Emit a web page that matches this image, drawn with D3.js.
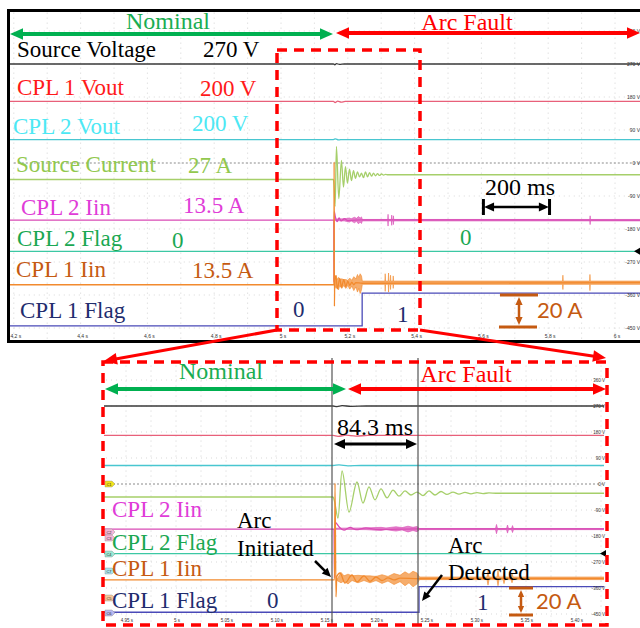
<!DOCTYPE html>
<html>
<head>
<meta charset="utf-8">
<script src="https://cdn.jsdelivr.net/npm/d3@7"></script>
<style>
  body { margin: 0; background: #fff; }
  svg { display: block; }
</style>
</head>
<body>
<script>
// scope capture, traces in screen volts against time (s)
var tArc = 5.157,
    tDetect = 5.243;

var voltTicks = [360, 270, 180, 90, 0, -90, -180, -270, -360, -450];
var topTimeTicks = [4.2, 4.4, 4.6, 4.8, 5, 5.2, 5.4, 5.6, 5.8, 6];
var topTimeLabels = ["4.2 s", "4.4 s", "4.6 s", "4.8 s", "5 s", "5.2 s", "5.4 s", "5.6 s", "5.8 s", "6 s"];
var botTimeTicks = [4.95, 5, 5.05, 5.1, 5.15, 5.2, 5.25, 5.3, 5.35, 5.4];
var botTimeLabels = ["4.95 s", "5 s", "5.05 s", "5.10 s", "5.15 s", "5.20 s", "5.25 s", "5.30 s", "5.35 s", "5.40 s"];

var chanNames = ["Source Voltage", "CPL 1 Vout", "CPL 2 Vout", "Source Current", "CPL 2 Iin", "CPL 2 Flag", "CPL 1 Iin", "CPL 1 Flag"];
var chanValues = ["270 V", "200 V", "200 V", "27 A", "13.5 A", "0", "13.5 A", "0"];

var sourceVoltage = [[4.15, 270], [5.157, 270], [5.161, 268], [5.166, 271], [5.175, 269], [5.19, 270], [6.1, 270]];
var cpl1Vout = [[4.15, 168], [5.157, 168], [5.162, 165], [5.17, 169], [5.18, 166], [5.192, 168], [6.1, 168]];
var cpl2Vout = [[4.15, 64], [5.157, 64], [5.163, 66], [5.172, 63], [5.185, 64], [6.1, 64]];
var sourceCurrent = [[4.15, -45], [5.157, -45], [5.1585, -60], [5.162, -118], [5.166, 45], [5.173, -97], [5.181, 7],
    [5.187, -66], [5.193, -10], [5.199, -55], [5.205, -17], [5.211, -48], [5.217, -21], [5.223, -42], [5.229, -24],
    [5.235, -38], [5.241, -28], [5.247, -40], [5.253, -24], [5.259, -38], [5.265, -26], [5.271, -36], [5.277, -28],
    [5.283, -35], [5.289, -29], [5.295, -34], [5.301, -30], [5.307, -33], [5.313, -31], [5.32, -32], [6.1, -32]];
var cpl2Iin = [[4.15, -156], [5.158, -156], [5.1585, -325], [5.159, -132], [5.163, -148], [5.168, -160], [5.174, -150],
    [5.18, -158], [5.19, -152], [5.2, -157], [5.243, -155], [6.1, -156]];
var cpl2IinNoise = [[5.16, -157, -153], [5.19, -158, -152], [5.205, -161, -150], [5.21, -158, -152], [5.22, -163, -148],
    [5.226, -159, -151], [5.232, -166, -146], [5.237, -161, -150], [5.241, -165, -147], [5.2435, -158, -154],
    [5.3195, -158, -154], [5.3205, -172, -140], [5.3215, -158, -154], [5.3305, -158, -154], [5.3315, -170, -142],
    [5.3325, -158, -154], [5.3355, -158, -154], [5.3365, -168, -144], [5.3375, -158, -154],
    [5.9245, -158, -154], [5.9255, -168, -144], [5.9265, -158, -154], [6.1, -158, -154]];
var cpl2Flag = [[4.15, -241], [6.1, -241]];
var cpl1Iin = [[4.15, -332], [5.1585, -332], [5.159, 3], [5.16, -391], [5.1608, -320], [5.164, -308], [5.169, -343],
    [5.176, -315], [5.181, -339], [5.188, -318], [5.194, -337], [5.2, -322], [5.206, -334], [5.212, -325], [5.218, -332],
    [5.224, -326], [5.243, -328], [6.1, -326]];
var cpl1IinNoise = [[5.161, -334, -330], [5.165, -342, -306], [5.168, -336, -318], [5.172, -346, -312], [5.176, -334, -318],
    [5.182, -342, -316], [5.188, -334, -318], [5.194, -342, -318], [5.2, -334, -320], [5.206, -344, -314], [5.212, -336, -320],
    [5.218, -348, -310], [5.224, -338, -316], [5.229, -352, -304], [5.233, -342, -312], [5.237, -356, -302], [5.241, -346, -308],
    [5.2435, -331, -322], [5.311, -331, -322], [5.312, -350, -302], [5.313, -331, -322], [5.321, -331, -322], [5.322, -352, -300],
    [5.323, -331, -322], [5.327, -331, -322], [5.328, -345, -306], [5.329, -331, -322], [5.335, -331, -322], [5.336, -342, -308],
    [5.337, -331, -322], [5.843, -331, -322], [5.844, -345, -306], [5.845, -331, -322], [5.924, -331, -322], [5.925, -348, -304],
    [5.926, -331, -322], [6.1, -331, -322]];
var cpl1Flag = [[4.15, -444], [5.243, -444], [5.243, -355], [6.1, -355]];

var traces = [
    { data: sourceVoltage, color: "#3a3a3a", curve: d3.curveMonotoneX },
    { data: cpl1Vout, color: "#e8607a", curve: d3.curveMonotoneX },
    { data: cpl2Vout, color: "#48c6d0", curve: d3.curveMonotoneX },
    { data: sourceCurrent, color: "#a6cf6a", curve: d3.curveMonotoneX },
    { data: cpl2Iin, color: "#d94bb5", curve: d3.curveMonotoneX, noise: cpl2IinNoise },
    { data: cpl2Flag, color: "#3cc8a4", curve: d3.curveLinear },
    { data: cpl1Iin, color: "#f28a2e", curve: d3.curveMonotoneX, noise: cpl1IinNoise },
    { data: cpl1Flag, color: "#4a4ab8", curve: d3.curveLinear }
];
var textColors = ["#000", "#ff1a1a", "#4de8f4", "#92c84e", "#e03cd8", "#1aa852", "#c55a11", "#1f2d6e"];

var W = 640, H = 628;
var svg = d3.select("body").append("svg")
    .attr("width", W).attr("height", H)
    .style("font-family", "'Liberation Serif', 'Times New Roman', serif");

var xTop = d3.scaleLinear().domain([5, 6]).range([281, 615]),
    yTop = d3.scaleLinear().domain([0, -450]).range([163, 328]),
    xBot = d3.scaleLinear().domain([5, 5.4]).range([176, 576]),
    yBot = d3.scaleLinear().domain([0, -450]).range([484, 614]);

var defs = svg.append("defs");
defs.append("clipPath").attr("id", "clipTop").append("rect").attr("x", 9).attr("y", 12).attr("width", 631).attr("height", 328);
defs.append("clipPath").attr("id", "clipBot").append("rect").attr("x", 104).attr("y", 364).attr("width", 500).attr("height", 260);

function drawPanel(clip, x, y, gridStep, t0, t1, xRight) {
    var g = svg.append("g").attr("clip-path", "url(#" + clip + ")");
    // dotted scope grid
    g.selectAll(".vg").data(d3.range(t0, t1, gridStep)).enter().append("line")
        .attr("x1", d => x(d)).attr("x2", d => x(d))
        .attr("y1", y(410)).attr("y2", y(-480))
        .attr("stroke", "#c8c8c8").attr("stroke-width", 0.8).attr("stroke-dasharray", "1,4");
    g.selectAll(".hg").data(voltTicks).enter().append("line")
        .attr("x1", x(t0)).attr("x2", xRight)
        .attr("y1", d => y(d)).attr("y2", d => y(d))
        .attr("stroke", d => d === 0 ? "#8a8a8a" : "#cfcfcf")
        .attr("stroke-width", d => d === 0 ? 1 : 0.8)
        .attr("stroke-dasharray", d => d === 0 ? "2,2" : "1,4");

    traces.forEach(function (tr) {
        var line = d3.line().x(d => x(d[0])).y(d => y(d[1])).curve(tr.curve);
        g.append("path").attr("d", line(tr.data))
            .attr("fill", "none").attr("stroke", tr.color).attr("stroke-width", 1.3);
        if (tr.noise) {
            var area = d3.area().x(d => x(d[0])).y0(d => y(d[1])).y1(d => y(d[2]));
            g.append("path").attr("d", area(tr.noise))
                .attr("fill", tr.color).attr("fill-opacity", 0.7)
                .attr("stroke", tr.color).attr("stroke-width", 0.6);
        }
    });
    return g;
}

// ---------- top panel (full record) ----------
drawPanel("clipTop", xTop, yTop, 0.1, 4.2, 6.1, 640);

svg.selectAll(".tyl").data(voltTicks).enter().append("text")
    .attr("x", 640).attr("y", d => yTop(d)).attr("dy", "0.35em")
    .attr("text-anchor", "end").style("font-family", "'Liberation Sans', sans-serif")
    .style("font-size", "5px").attr("fill", "#333").text(d => d + " V");
svg.selectAll(".txl").data(topTimeTicks).enter().append("text")
    .attr("x", d => xTop(d) + 2).attr("y", 338)
    .attr("text-anchor", "middle").style("font-family", "'Liberation Sans', sans-serif")
    .style("font-size", "5px").attr("fill", "#333").text((d, i) => topTimeLabels[i]);

svg.append("rect").attr("x", 8.5).attr("y", 10.5).attr("width", 640).attr("height", 331)
    .attr("fill", "none").attr("stroke", "#000").attr("stroke-width", 3);

// ---------- bottom panel (zoomed) ----------
drawPanel("clipBot", xBot, yBot, 0.025, 4.925, 5.43, 604);

svg.selectAll(".byl").data(voltTicks).enter().append("text")
    .attr("x", 605).attr("y", d => yBot(d)).attr("dy", "0.35em")
    .attr("text-anchor", "end").style("font-family", "'Liberation Sans', sans-serif")
    .style("font-size", "4.5px").attr("fill", "#333").text(d => d + " V");
svg.selectAll(".bxl").data(botTimeTicks).enter().append("text")
    .attr("x", d => xBot(d) + 1).attr("y", 622)
    .attr("text-anchor", "middle").style("font-family", "'Liberation Sans', sans-serif")
    .style("font-size", "4.5px").attr("fill", "#333").text((d, i) => botTimeLabels[i]);

// cursors at arc start and detection
[tArc, tDetect].forEach(function (t) {
    svg.append("line").attr("x1", xBot(t) - 1).attr("x2", xBot(t) - 1).attr("y1", 358).attr("y2", 625)
        .attr("stroke", "#555").attr("stroke-width", 1.2);
});

// channel tags on the left edge of the zoom
var tags = [[484, "#f2e21a", "C1"], [532, "#f4b6d8", "C2"], [538, "#f4b6d8", "C3"], [554, "#9ae8d4", "C4"],
    [571, "#a8e4ee", "C7"], [598, "#f8c89a", "C5"], [613, "#b8b8f0", "C6"]];
tags.forEach(function (t) {
    svg.append("path").attr("d", "M105," + (t[0] - 3) + "h7l3,3l-3,3h-7z")
        .attr("fill", t[1]).attr("stroke", "#888").attr("stroke-width", 0.4);
    svg.append("text").attr("x", 109).attr("y", t[0] + 1.5).attr("text-anchor", "middle")
        .style("font-family", "'Liberation Sans', sans-serif").style("font-size", "4px").attr("fill", "#333").text(t[2]);
});

// small level markers at the right edge (flag channel)
svg.append("path").attr("d", "M634," + yTop(-241) + "l6,-3.5v7z").attr("fill", "#000");
svg.append("path").attr("d", "M600," + yBot(-241) + "l6,-3.5v7z").attr("fill", "#000");

// ---------- annotations ----------
function arrow(x1, y1, x2, y2, color, w, head, both) {
    var ang = Math.atan2(y2 - y1, x2 - x1), hl = head, hw = head * 0.45;
    var sx1 = both ? x1 + Math.cos(ang) * hl * 0.8 : x1, sy1 = both ? y1 + Math.sin(ang) * hl * 0.8 : y1;
    svg.append("line").attr("x1", sx1).attr("y1", sy1)
        .attr("x2", x2 - Math.cos(ang) * hl * 0.8).attr("y2", y2 - Math.sin(ang) * hl * 0.8)
        .attr("stroke", color).attr("stroke-width", w);
    function headAt(px, py, a) {
        var bx = px - Math.cos(a) * hl, by = py - Math.sin(a) * hl;
        svg.append("path").attr("d", "M" + px + "," + py +
            "L" + (bx - Math.sin(a) * hw) + "," + (by + Math.cos(a) * hw) +
            "L" + (bx + Math.sin(a) * hw) + "," + (by - Math.cos(a) * hw) + "Z")
            .attr("fill", color);
    }
    headAt(x2, y2, ang);
    if (both) headAt(x1, y1, ang + Math.PI);
}

function label(x, y, txt, color, size, anchor, family) {
    svg.append("text").attr("x", x).attr("y", y).attr("text-anchor", anchor || "start")
        .style("font-size", size + "px").style("font-family", family || null)
        .attr("fill", color).text(txt);
}

var green = "#00b050", red = "#ff0000", brown = "#c55a11";

// top panel headers
label(168, 29, "Nominal", "#1aad52", 24, "middle");
label(467, 30, "Arc Fault", red, 24, "middle");
arrow(10, 34, 333, 34, green, 4, 13, true);
arrow(336, 33, 640, 33, red, 4, 13, true);

// top channel labels
var topNamePos = [[17, 57], [17, 95], [13, 134], [16, 172], [21, 215], [17, 246], [16, 277], [20, 318]];
var topValPos = [[203, 57], [200, 96], [192, 131], [188, 173], [183, 213], [172, 248], [192, 278], [293, 317]];
chanNames.forEach(function (n, i) {
    label(topNamePos[i][0], topNamePos[i][1], n, textColors[i], 23);
    label(topValPos[i][0], topValPos[i][1], chanValues[i], textColors[i], 23);
});
label(397, 322, "1", textColors[7], 23);
label(460, 245, "0", textColors[5], 23);

// 200 ms scale bar
label(520, 195, "200 ms", "#000", 24, "middle");
arrow(xTop(5.608), 207, xTop(5.802), 207, "#000", 2.5, 10, true);
[5.606, 5.804].forEach(function (t) {
    svg.append("line").attr("x1", xTop(t)).attr("x2", xTop(t)).attr("y1", 199).attr("y2", 215)
        .attr("stroke", "#000").attr("stroke-width", 3);
});

// 20 A scale bar (top)
svg.append("line").attr("x1", 500).attr("x2", 538).attr("y1", 295).attr("y2", 295).attr("stroke", brown).attr("stroke-width", 3);
svg.append("line").attr("x1", 499).attr("x2", 537).attr("y1", 327).attr("y2", 327).attr("stroke", brown).attr("stroke-width", 3);
arrow(519, 297, 519, 325, brown, 2.5, 8, true);
label(537, 318, "20 A", brown, 22, "start", "Lato, 'Open Sans', sans-serif");

// zoom box on top panel and leader lines
svg.append("rect").attr("x", 277).attr("y", 50).attr("width", 143).attr("height", 280)
    .attr("fill", "none").attr("stroke", red).attr("stroke-width", 3.5).attr("stroke-dasharray", "10,7");
arrow(277, 330, 104, 361, red, 3, 13, false);
arrow(420, 330, 606, 358, red, 3, 13, false);

// bottom zoom box
svg.append("rect").attr("x", 103).attr("y", 362).attr("width", 504).attr("height", 263)
    .attr("fill", "none").attr("stroke", red).attr("stroke-width", 3.5).attr("stroke-dasharray", "10,7");

label(221, 379, "Nominal", "#1aad52", 24, "middle");
label(466, 382, "Arc Fault", red, 24, "middle");
arrow(105, 389, 346, 389, green, 4, 13, true);
arrow(348, 389, 606, 389, red, 4, 13, true);

label(375, 435, "84.3 ms", "#000", 24, "middle");
arrow(334, 444, 417, 444, "#000", 3, 11, true);

// bottom channel labels
label(112, 517, chanNames[4], textColors[4], 23);
label(112, 550, chanNames[5], textColors[5], 23);
label(112, 576, chanNames[6], textColors[6], 23);
label(112, 608, chanNames[7], textColors[7], 23);
label(267, 608, "0", textColors[7], 23);
label(477, 610, "1", textColors[7], 23);

label(237, 528, "Arc", "#000", 23);
label(237, 556, "Initiated", "#000", 23);
arrow(315, 561, 331, 577, "#000", 2.5, 9, false);
label(448, 553, "Arc", "#000", 23);
label(448, 580, "Detected", "#000", 23);
arrow(442, 575, 422, 601, "#000", 2.5, 9, false);

// 20 A scale bar (bottom)
svg.append("line").attr("x1", 509).attr("x2", 533).attr("y1", 588).attr("y2", 588).attr("stroke", brown).attr("stroke-width", 3);
svg.append("line").attr("x1", 509).attr("x2", 533).attr("y1", 615).attr("y2", 615).attr("stroke", brown).attr("stroke-width", 3);
arrow(521, 590, 521, 613, brown, 2.5, 7, true);
label(536, 609, "20 A", brown, 22, "start", "Lato, 'Open Sans', sans-serif");
</script>
</body>
</html>
